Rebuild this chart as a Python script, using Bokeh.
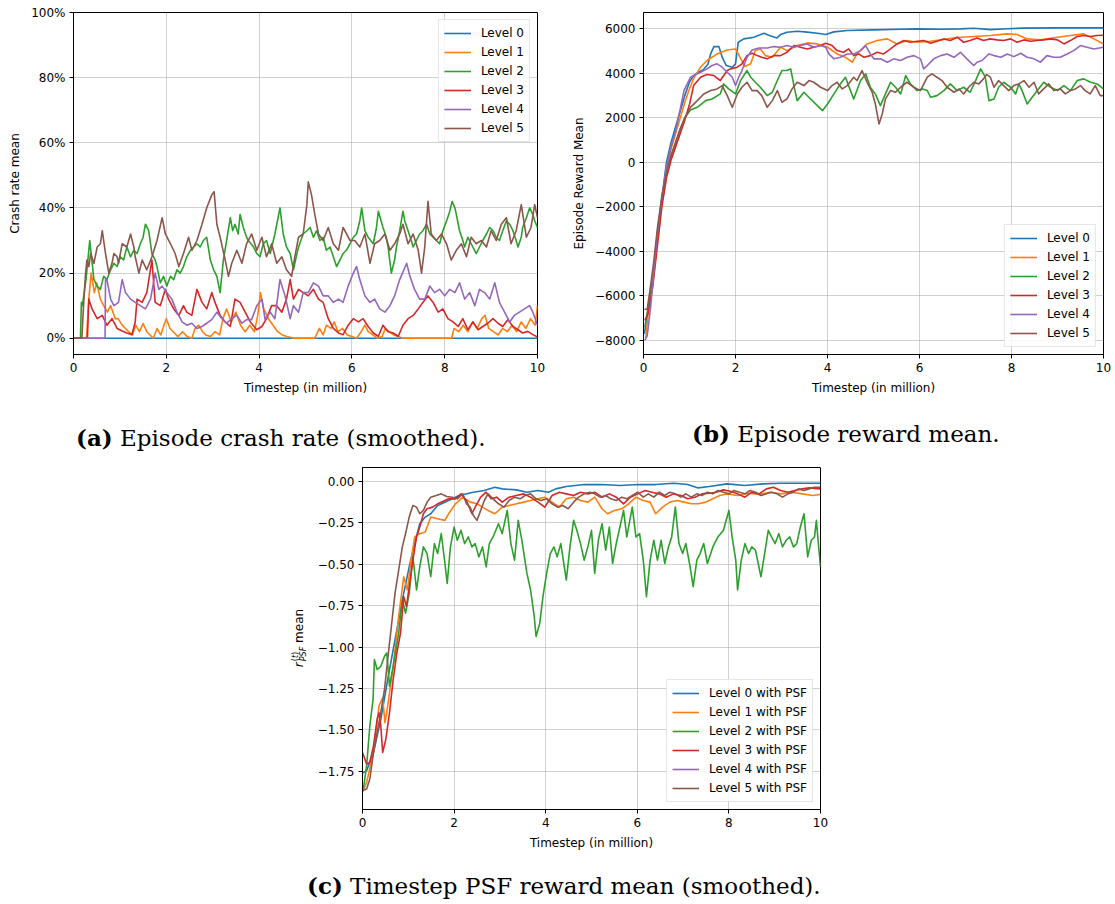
from bokeh.plotting import figure
from bokeh.layouts import column, row
from bokeh.models import Range1d, FixedTicker, Legend, LegendItem, Spacer, Div
from bokeh.embed import file_html
from bokeh.resources import INLINE

# ---------------------------------------------------------------- data
x_ticks = [0, 2, 4, 6, 8, 10]
x_tick_labels = ["0", "2", "4", "6", "8", "10"]

crash_ticks = [0, 20, 40, 60, 80, 100]
crash_tick_labels = ["0%", "20%", "40%", "60%", "80%", "100%"]

reward_ticks = [-8000, -6000, -4000, -2000, 0, 2000, 4000, 6000]
reward_tick_labels = ["\u22128000", "\u22126000", "\u22124000", "\u22122000", "0", "2000", "4000", "6000"]

psf_ticks = [-1.75, -1.5, -1.25, -1.0, -0.75, -0.5, -0.25, 0.0]
psf_tick_labels = ["\u22121.75", "\u22121.50", "\u22121.25", "\u22121.00", "\u22120.75", "\u22120.50", "\u22120.25", "0.00"]

levels = ["Level 0", "Level 1", "Level 2", "Level 3", "Level 4", "Level 5"]
psf_levels = [f"{lv} with PSF" for lv in levels]

# (a) episode crash rate, percent, (timestep in million, value)
crash_level0 = [(0, 0), (2, 0), (4, 0), (6, 0), (8, 0), (10, 0)]
crash_level1 = [(0.0, 0), (0.28, 0), (0.33, 12), (0.38, 20), (0.45, 14), (0.5, 17), (0.58, 12), (0.65, 10), (0.73, 8),
                (0.8, 10), (0.9, 6), (0.96, 6), (1.05, 4), (1.12, 3), (1.19, 2), (1.27, 1), (1.34, 4), (1.42, 2), (1.5, 4.5),
                (1.58, 2), (1.65, 1), (1.72, 0), (1.8, 3), (1.88, 1), (1.95, 4), (2.0, 6), (2.08, 3), (2.15, 2), (2.25, 0.5),
                (2.35, 2), (2.45, 0.5), (2.55, 0), (2.62, 3), (2.7, 4), (2.78, 2), (2.85, 1), (2.95, 0.5), (3.05, 2), (3.15, 1),
                (3.22, 6), (3.3, 9), (3.4, 5), (3.5, 8), (3.6, 4), (3.7, 2), (3.8, 4), (3.9, 2), (3.97, 7), (4.03, 14),
                (4.1, 9), (4.2, 6), (4.3, 4), (4.4, 2), (4.5, 1), (4.6, 0.5), (4.75, 0), (4.9, 0), (5.05, 0), (5.2, 0),
                (5.3, 3), (5.38, 1), (5.45, 4), (5.55, 3), (5.62, 5), (5.7, 2), (5.8, 3), (5.9, 1), (6.0, 0.5), (6.1, 0),
                (6.2, 2), (6.28, 4), (6.35, 2), (6.45, 1), (6.55, 0), (6.65, 0.5), (6.72, 3), (6.8, 2), (6.9, 1), (7.0, 0.5),
                (7.1, 0), (7.25, 0), (7.5, 0), (7.8, 0), (8.1, 0), (8.15, 0), (8.2, 3), (8.3, 2), (8.4, 4), (8.5, 2),
                (8.6, 5), (8.7, 3), (8.8, 6), (8.87, 7), (8.95, 3), (9.05, 2), (9.15, 1), (9.25, 3), (9.35, 2), (9.45, 4),
                (9.55, 2), (9.65, 5), (9.75, 3), (9.85, 6), (9.95, 4), (10.0, 10)]
crash_level2 = [(0, 0), (0.15, 0), (0.17, 11), (0.19, 10), (0.27, 18), (0.35, 30), (0.44, 18), (0.51, 16), (0.58, 15),
                (0.65, 19), (0.72, 18), (0.8, 21), (0.87, 23), (0.94, 22), (1.01, 25), (1.08, 24), (1.15, 28), (1.23, 25),
                (1.3, 27), (1.37, 26), (1.44, 29), (1.5, 31), (1.55, 35), (1.62, 33), (1.69, 26), (1.76, 24), (1.8, 22),
                (1.87, 17), (1.94, 19), (2.01, 16), (2.09, 19), (2.16, 18), (2.23, 21), (2.3, 20), (2.37, 22), (2.44, 25),
                (2.52, 27), (2.59, 28), (2.66, 29), (2.73, 28), (2.8, 30), (2.87, 31), (2.95, 24), (3.02, 21), (3.09, 19),
                (3.16, 14), (3.23, 24), (3.3, 30), (3.38, 37), (3.43, 33), (3.48, 35), (3.55, 32), (3.59, 38), (3.66, 34),
                (3.73, 31), (3.77, 30), (3.88, 28), (3.95, 26), (4.02, 25), (4.09, 29), (4.16, 30), (4.24, 26), (4.34, 32),
                (4.45, 40), (4.52, 32), (4.59, 28), (4.67, 26), (4.74, 21), (4.8, 25), (4.85, 28), (4.95, 32), (5.03, 33),
                (5.1, 34), (5.17, 31), (5.24, 33), (5.31, 30), (5.38, 31), (5.45, 27), (5.53, 28), (5.6, 25), (5.67, 22),
                (5.74, 24), (5.81, 26), (5.88, 27), (5.96, 29), (6.03, 31), (6.1, 32), (6.17, 36), (6.21, 40), (6.28, 33),
                (6.35, 31), (6.46, 29), (6.53, 34), (6.57, 39), (6.63, 36), (6.67, 34), (6.74, 31), (6.78, 28), (6.85, 20),
                (6.92, 24), (6.96, 28), (7.03, 33), (7.1, 39), (7.14, 36), (7.21, 33), (7.28, 30), (7.32, 28), (7.39, 30),
                (7.46, 32), (7.53, 33), (7.61, 35), (7.68, 32), (7.75, 31), (7.82, 30), (7.89, 29), (7.96, 33), (8.04, 36),
                (8.11, 39), (8.16, 42), (8.22, 40), (8.25, 38), (8.32, 33), (8.39, 30), (8.43, 28), (8.5, 31), (8.57, 29),
                (8.68, 26), (8.75, 28), (8.82, 30), (8.9, 32), (8.97, 34), (9.04, 33), (9.11, 31), (9.18, 30), (9.25, 33),
                (9.33, 36), (9.4, 35), (9.47, 33), (9.54, 30), (9.58, 28), (9.65, 31), (9.68, 34), (9.76, 37), (9.83, 40),
                (9.9, 38), (9.94, 36), (10.0, 34)]
crash_level3 = [(0, 0), (0.3, 0), (0.33, 12), (0.4, 9), (0.51, 6), (0.62, 7), (0.72, 4), (0.83, 6), (0.94, 3), (1.05, 2.2),
                (1.15, 1.6), (1.26, 1.1), (1.33, 5), (1.37, 12), (1.48, 11), (1.58, 14), (1.69, 24), (1.76, 11), (1.87, 10),
                (1.98, 15), (2.05, 12), (2.16, 9), (2.27, 7), (2.37, 10), (2.44, 8), (2.55, 7), (2.66, 15), (2.77, 11),
                (2.87, 9), (2.98, 14), (3.05, 11), (3.16, 7), (3.27, 5), (3.38, 3.6), (3.48, 12), (3.59, 11), (3.7, 8),
                (3.81, 5), (3.95, 2.6), (4.06, 3.6), (4.16, 6), (4.27, 10), (4.38, 10), (4.49, 8), (4.59, 12), (4.67, 18),
                (4.74, 12), (4.85, 15), (4.95, 14), (5.06, 13), (5.17, 15), (5.28, 12), (5.38, 11), (5.49, 6), (5.6, 3),
                (5.71, 1.6), (5.81, 1.1), (5.92, 4), (6.03, 6), (6.14, 5), (6.24, 6), (6.35, 3.6), (6.46, 1.6), (6.57, 0.6),
                (6.67, 4), (6.78, 2), (6.89, 1.6), (7.0, 0.6), (7.1, 4), (7.21, 6), (7.32, 7), (7.43, 9), (7.53, 11),
                (7.64, 13), (7.75, 11), (7.86, 8), (7.96, 9), (8.07, 6), (8.18, 5), (8.29, 3.6), (8.39, 6), (8.5, 2.6),
                (8.61, 5), (8.72, 2.6), (8.82, 3.6), (8.93, 4.6), (9.04, 6), (9.15, 4.6), (9.25, 3.6), (9.36, 5.7),
                (9.47, 3.6), (9.58, 2.6), (9.68, 1.6), (9.79, 2.1), (9.9, 1.1), (10.0, 0.4)]
crash_level4 = [(0, 0), (0.68, 0), (0.69, 18), (0.72, 18), (0.8, 12), (0.87, 10), (0.97, 11), (1.05, 18), (1.12, 14),
                (1.23, 12), (1.33, 11), (1.44, 10), (1.55, 9), (1.66, 12), (1.76, 20), (1.84, 15), (1.91, 16), (2.01, 14),
                (2.12, 12), (2.23, 8), (2.34, 5), (2.44, 4), (2.55, 4.6), (2.66, 3), (2.77, 3.6), (2.87, 4.6), (2.98, 5.7),
                (3.09, 8), (3.2, 6), (3.3, 4.6), (3.41, 6), (3.52, 7), (3.63, 4.6), (3.73, 5.7), (3.84, 5.7), (3.95, 10),
                (4.06, 12), (4.13, 5.7), (4.24, 8), (4.34, 6), (4.45, 18), (4.56, 13), (4.67, 6), (4.74, 10), (4.85, 8),
                (4.95, 14), (5.06, 14), (5.17, 17), (5.28, 16), (5.38, 13), (5.49, 13), (5.6, 11), (5.71, 12), (5.81, 11),
                (5.92, 16), (6.03, 20), (6.1, 22), (6.17, 18), (6.28, 13), (6.39, 11), (6.49, 12), (6.6, 9), (6.71, 8),
                (6.82, 10), (6.92, 13), (7.03, 18), (7.18, 23), (7.25, 19), (7.35, 15), (7.46, 12), (7.57, 12), (7.68, 16),
                (7.78, 14), (7.89, 15), (8.0, 13), (8.11, 15), (8.22, 14), (8.32, 17), (8.43, 12), (8.54, 14), (8.65, 10),
                (8.75, 15), (8.86, 14), (8.97, 12), (9.08, 17), (9.18, 11), (9.29, 8), (9.4, 5), (9.5, 7), (9.61, 8),
                (9.72, 9), (9.83, 10), (9.9, 8), (10.0, 4)]
crash_level5 = [(0, 0), (0.18, 0), (0.22, 11), (0.26, 20), (0.29, 24), (0.33, 22), (0.37, 26), (0.44, 23), (0.51, 28),
                (0.58, 29), (0.62, 33), (0.69, 26), (0.76, 20), (0.83, 23), (0.87, 26), (0.94, 25), (0.97, 23), (1.05, 29),
                (1.15, 28), (1.23, 32), (1.3, 28), (1.33, 25), (1.41, 20), (1.48, 24), (1.58, 21), (1.69, 25), (1.8, 30),
                (1.91, 37), (1.98, 32), (2.09, 29), (2.19, 26), (2.27, 22), (2.37, 26), (2.48, 31), (2.55, 27), (2.66, 30),
                (2.77, 35), (2.87, 40), (2.98, 44), (3.03, 45), (3.09, 35), (3.16, 31), (3.27, 24), (3.34, 19), (3.41, 23),
                (3.52, 27), (3.63, 23), (3.73, 29), (3.84, 32), (3.95, 27), (4.06, 31), (4.16, 25), (4.27, 29), (4.38, 23),
                (4.49, 25), (4.59, 21), (4.7, 19), (4.77, 25), (4.85, 31), (4.95, 32), (5.03, 41), (5.06, 48), (5.13, 44),
                (5.2, 38), (5.28, 32), (5.38, 30), (5.49, 34), (5.6, 29), (5.71, 27), (5.81, 34), (5.96, 30), (6.06, 30),
                (6.17, 28), (6.28, 32), (6.39, 23), (6.49, 29), (6.6, 30), (6.71, 32), (6.82, 27), (6.92, 29), (7.03, 32),
                (7.1, 35), (7.21, 29), (7.32, 32), (7.43, 27), (7.5, 20), (7.57, 28), (7.64, 42), (7.71, 32), (7.82, 30),
                (7.93, 32), (8.04, 29), (8.14, 24), (8.25, 27), (8.36, 29), (8.47, 25), (8.57, 31), (8.68, 29), (8.79, 30),
                (8.9, 28), (9.0, 33), (9.11, 30), (9.22, 35), (9.33, 37), (9.43, 29), (9.54, 33), (9.65, 41), (9.76, 31),
                (9.86, 34), (9.94, 41), (10.0, 37)]

# (b) episode reward mean
reward_level0 = [(0.02, -7700), (0.1, -6600), (0.2, -5200), (0.3, -3300), (0.4, -1600), (0.5, 0), (0.6, 900), (0.7, 1600),
                 (0.8, 2300), (0.9, 3000), (1.0, 3600), (1.1, 3900), (1.2, 4050), (1.3, 4150), (1.4, 4400), (1.46, 4860),
                 (1.53, 5190), (1.64, 5190), (1.71, 4713), (1.8, 4340), (1.93, 4263), (2.0, 4413), (2.06, 5386),
                 (2.18, 5535), (2.4, 5610), (2.62, 5790), (2.72, 5700), (2.9, 5580), (2.98, 5730), (3.12, 5835),
                 (3.34, 5880), (3.56, 5840), (3.78, 5790), (3.96, 5730), (4.14, 5850), (4.43, 5910), (5.0, 5940),
                 (5.58, 5970), (5.95, 5985), (6.46, 5970), (6.9, 5985), (7.18, 6010), (7.54, 5950), (7.9, 5990),
                 (8.27, 6020), (9.0, 6030), (10.0, 6030)]
reward_level1 = [(0.05, -7900), (0.1, -6800), (0.2, -5500), (0.3, -3600), (0.4, -1800), (0.5, -300), (0.6, 600), (0.7, 1300),
                 (0.8, 2000), (0.9, 2700), (1.0, 3300), (1.1, 3800), (1.24, 4265), (1.38, 4565), (1.6, 4860), (1.82, 5040),
                 (2.0, 5085), (2.1, 4710), (2.2, 4300), (2.33, 4415), (2.43, 5010), (2.54, 5085), (2.65, 4785), (2.8, 4710),
                 (2.98, 5160), (3.12, 5010), (3.34, 5235), (3.56, 5355), (3.78, 5310), (4.0, 5160), (4.21, 4860),
                 (4.39, 4710), (4.54, 4490), (4.64, 4860), (4.86, 5310), (5.08, 5460), (5.3, 5535), (5.51, 5310),
                 (5.73, 5460), (5.95, 5385), (6.24, 5430), (6.46, 5490), (6.82, 5595), (7.18, 5640), (7.54, 5685),
                 (7.9, 5760), (8.12, 5730), (8.34, 5535), (8.63, 5490), (9.0, 5610), (9.28, 5685), (9.57, 5760),
                 (9.79, 5535), (10.0, 5310)]
reward_level2 = [(0.03, -7400), (0.1, -6500), (0.2, -5200), (0.3, -3400), (0.4, -1700), (0.5, -500), (0.6, 300), (0.7, 900),
                 (0.8, 1500), (0.9, 2000), (1.02, 2345), (1.17, 2465), (1.35, 2765), (1.49, 2840), (1.67, 3065),
                 (1.74, 3515), (1.85, 3290), (2.0, 3065), (2.11, 3665), (2.25, 4115), (2.33, 3815), (2.43, 3590),
                 (2.54, 3365), (2.69, 2990), (2.8, 3140), (2.94, 3815), (3.01, 4115), (3.12, 4115), (3.2, 4190),
                 (3.27, 3440), (3.34, 2765), (3.49, 3140), (3.63, 2840), (3.78, 2540), (3.89, 2315), (4.0, 2615),
                 (4.14, 3065), (4.28, 3515), (4.39, 3815), (4.5, 3215), (4.57, 2840), (4.72, 3665), (4.83, 3965),
                 (4.93, 3365), (5.04, 3065), (5.15, 2540), (5.26, 3065), (5.37, 3590), (5.48, 3365), (5.59, 3065),
                 (5.7, 3890), (5.8, 3515), (5.95, 3215), (6.06, 3290), (6.17, 3215), (6.24, 2915), (6.38, 2990),
                 (6.53, 3215), (6.67, 3515), (6.82, 3215), (6.96, 3365), (7.1, 3140), (7.22, 3665), (7.33, 4190),
                 (7.43, 3815), (7.51, 2765), (7.62, 2840), (7.72, 3365), (7.83, 3590), (7.98, 3365), (8.09, 3065),
                 (8.16, 3515), (8.23, 3215), (8.34, 2615), (8.45, 2915), (8.56, 3215), (8.7, 3590), (8.85, 3365),
                 (9.0, 3215), (9.14, 3440), (9.28, 3215), (9.43, 3665), (9.57, 3740), (9.72, 3590), (9.86, 3515),
                 (10.0, 3290)]
reward_level3 = [(0.03, -7100), (0.1, -6800), (0.2, -5600), (0.3, -3800), (0.4, -2000), (0.5, -700), (0.6, 100), (0.7, 700),
                 (0.8, 1300), (0.9, 1900), (1.0, 2600), (1.09, 3440), (1.24, 3815), (1.38, 3935), (1.53, 3890),
                 (1.67, 3665), (1.82, 4115), (1.89, 4190), (2.04, 4265), (2.14, 4415), (2.25, 4785), (2.36, 4890),
                 (2.47, 4785), (2.57, 4710), (2.69, 4640), (2.83, 4785), (2.98, 4785), (3.12, 4935), (3.27, 5235),
                 (3.41, 5160), (3.56, 5085), (3.7, 5160), (3.85, 5235), (3.96, 5340), (4.1, 5235), (4.21, 5010),
                 (4.35, 4935), (4.46, 5085), (4.57, 4785), (4.68, 4860), (4.79, 4710), (4.93, 4785), (5.08, 4935),
                 (5.22, 4860), (5.37, 5085), (5.51, 5310), (5.66, 5460), (5.8, 5385), (5.95, 5430), (6.09, 5460),
                 (6.24, 5340), (6.38, 5430), (6.53, 5535), (6.67, 5460), (6.82, 5610), (6.96, 5385), (7.1, 5460),
                 (7.25, 5580), (7.39, 5460), (7.54, 5535), (7.68, 5490), (7.83, 5460), (7.98, 5535), (8.12, 5385),
                 (8.27, 5490), (8.41, 5430), (8.56, 5460), (8.7, 5490), (8.85, 5535), (9.0, 5490), (9.14, 5310),
                 (9.28, 5460), (9.43, 5640), (9.57, 5685), (9.72, 5640), (9.86, 5685), (10.0, 5700)]
reward_level4 = [(0.03, -8000), (0.08, -7800), (0.15, -6600), (0.22, -5000), (0.3, -3200), (0.4, -1600), (0.5, -200),
                 (0.6, 700), (0.7, 1400), (0.8, 2400), (0.88, 3215), (1.02, 3815), (1.09, 3890), (1.24, 4040), (1.38, 4190),
                 (1.49, 4340), (1.6, 4415), (1.71, 4265), (1.82, 4040), (1.93, 3815), (2.0, 3440), (2.07, 3815),
                 (2.14, 4115), (2.25, 4710), (2.36, 5040), (2.51, 5130), (2.69, 5130), (2.83, 5190), (2.98, 5160),
                 (3.12, 5235), (3.27, 5160), (3.41, 5235), (3.56, 5310), (3.7, 5160), (3.85, 5235), (3.96, 5160),
                 (4.03, 4860), (4.14, 4640), (4.28, 4710), (4.43, 4860), (4.57, 4860), (4.72, 5010), (4.83, 5235),
                 (4.93, 4860), (5.01, 4640), (5.15, 4640), (5.3, 4490), (5.44, 4640), (5.59, 4565), (5.73, 4710),
                 (5.88, 4785), (6.02, 4640), (6.09, 4190), (6.17, 4340), (6.31, 4640), (6.46, 4785), (6.6, 4860),
                 (6.75, 4710), (6.89, 4935), (7.03, 4640), (7.18, 4340), (7.25, 4490), (7.36, 4565), (7.51, 4860),
                 (7.62, 4785), (7.77, 4710), (7.91, 4860), (8.05, 4740), (8.2, 4890), (8.34, 4710), (8.49, 4640),
                 (8.63, 4490), (8.77, 4785), (8.92, 4710), (9.06, 4710), (9.21, 4860), (9.35, 5010), (9.5, 5235),
                 (9.64, 5160), (9.79, 5085), (10.0, 5160)]
reward_level5 = [(0.02, -6600), (0.08, -6600), (0.15, -5600), (0.22, -4500), (0.3, -3000), (0.4, -1500), (0.5, -500),
                 (0.6, 300), (0.7, 900), (0.8, 1500), (0.9, 2000), (1.02, 2465), (1.17, 2765), (1.31, 3065), (1.46, 3215),
                 (1.6, 3290), (1.71, 3440), (1.82, 2990), (1.93, 2465), (2.04, 3065), (2.14, 3365), (2.25, 3590),
                 (2.36, 3215), (2.47, 3215), (2.57, 2990), (2.69, 2465), (2.8, 2765), (2.91, 3215), (3.01, 2690),
                 (3.12, 2840), (3.23, 3290), (3.34, 3590), (3.49, 3440), (3.6, 3665), (3.7, 3590), (3.85, 3365),
                 (4.0, 3215), (4.1, 3440), (4.21, 3590), (4.32, 3290), (4.43, 3440), (4.57, 3815), (4.64, 3665),
                 (4.75, 4115), (4.86, 3590), (4.97, 3140), (5.04, 2615), (5.12, 1720), (5.19, 2165), (5.26, 2840),
                 (5.37, 3215), (5.48, 3140), (5.59, 3365), (5.73, 3590), (5.88, 3365), (6.02, 3215), (6.17, 3815),
                 (6.27, 3965), (6.38, 3815), (6.49, 3665), (6.6, 3365), (6.75, 3140), (6.86, 3290), (6.96, 3065),
                 (7.07, 3365), (7.18, 3590), (7.29, 3515), (7.39, 3740), (7.46, 3935), (7.54, 3815), (7.62, 3365),
                 (7.72, 3665), (7.83, 3440), (7.94, 3215), (8.05, 3440), (8.16, 3515), (8.27, 3665), (8.38, 3365),
                 (8.49, 3590), (8.59, 3065), (8.7, 3290), (8.81, 3515), (8.92, 3215), (9.06, 3290), (9.17, 3065),
                 (9.28, 3215), (9.39, 3290), (9.5, 3440), (9.6, 3215), (9.71, 3065), (9.82, 3440), (9.93, 2990),
                 (10.0, 2990)]

# (c) timestep PSF reward mean
psf_level0 = [(0.0, -1.76), (0.09, -1.746), (0.24, -1.636), (0.4, -1.436), (0.55, -1.196), (0.71, -0.956), (0.87, -0.716),
              (1.02, -0.516), (1.14, -0.376), (1.25, -0.256), (1.37, -0.216), (1.49, -0.196), (1.64, -0.146),
              (1.88, -0.116), (2.11, -0.086), (2.42, -0.066), (2.66, -0.056), (2.89, -0.036), (3.05, -0.046),
              (3.36, -0.052), (3.59, -0.066), (3.83, -0.056), (4.06, -0.066), (4.22, -0.046), (4.45, -0.032),
              (4.84, -0.02), (5.23, -0.02), (5.62, -0.026), (6.01, -0.02), (6.4, -0.02), (6.79, -0.012), (7.1, -0.02),
              (7.33, -0.04), (7.57, -0.032), (7.96, -0.016), (8.35, -0.026), (8.74, -0.016), (9.13, -0.012),
              (9.52, -0.012), (10.0, -0.012)]
psf_level1 = [(0.0, -1.876), (0.09, -1.816), (0.24, -1.636), (0.36, -1.356), (0.44, -1.306), (0.49, -1.456), (0.55, -1.356),
              (0.67, -1.116), (0.79, -0.816), (0.9, -0.576), (0.98, -0.656), (1.06, -0.476), (1.14, -0.336), (1.25, -0.316),
              (1.37, -0.306), (1.49, -0.216), (1.64, -0.226), (1.8, -0.236), (1.88, -0.196), (2.03, -0.136), (2.19, -0.096),
              (2.35, -0.126), (2.5, -0.136), (2.62, -0.156), (2.74, -0.176), (2.89, -0.196), (3.05, -0.156), (3.2, -0.146),
              (3.36, -0.136), (3.52, -0.126), (3.67, -0.116), (3.83, -0.106), (3.98, -0.096), (4.14, -0.126),
              (4.3, -0.156), (4.45, -0.106), (4.61, -0.096), (4.76, -0.116), (4.92, -0.126), (5.07, -0.096),
              (5.23, -0.166), (5.35, -0.196), (5.5, -0.176), (5.66, -0.166), (5.81, -0.136), (5.97, -0.096),
              (6.13, -0.116), (6.28, -0.126), (6.4, -0.196), (6.55, -0.156), (6.71, -0.126), (6.87, -0.116),
              (7.02, -0.126), (7.18, -0.136), (7.33, -0.136), (7.49, -0.126), (7.65, -0.106), (7.8, -0.086),
              (7.96, -0.076), (8.19, -0.086), (8.43, -0.072), (8.66, -0.08), (8.9, -0.066), (9.13, -0.076),
              (9.36, -0.066), (9.6, -0.076), (9.83, -0.086), (10.0, -0.08)]
psf_level2 = [(0.02, -1.856), (0.09, -1.716), (0.16, -1.476), (0.23, -1.316), (0.26, -1.076), (0.32, -1.136), (0.4, -1.116),
              (0.48, -1.056), (0.53, -1.036), (0.59, -1.236), (0.67, -1.116), (0.79, -0.916), (0.87, -0.716), (0.94, -0.796),
              (1.02, -0.676), (1.1, -0.456), (1.18, -0.656), (1.25, -0.516), (1.33, -0.396), (1.41, -0.436), (1.49, -0.576),
              (1.57, -0.376), (1.64, -0.436), (1.72, -0.316), (1.8, -0.496), (1.85, -0.616), (1.92, -0.396), (2.0, -0.276),
              (2.07, -0.356), (2.15, -0.296), (2.23, -0.376), (2.31, -0.336), (2.39, -0.396), (2.46, -0.376), (2.54, -0.456),
              (2.62, -0.396), (2.7, -0.516), (2.77, -0.376), (2.85, -0.336), (2.97, -0.256), (3.05, -0.316), (3.16, -0.176),
              (3.24, -0.376), (3.32, -0.476), (3.4, -0.236), (3.48, -0.356), (3.59, -0.556), (3.67, -0.656), (3.75, -0.816),
              (3.79, -0.936), (3.87, -0.856), (3.94, -0.696), (4.02, -0.556), (4.1, -0.436), (4.18, -0.396), (4.25, -0.456),
              (4.33, -0.376), (4.45, -0.596), (4.53, -0.396), (4.61, -0.236), (4.68, -0.296), (4.76, -0.376), (4.84, -0.476),
              (4.92, -0.396), (5.0, -0.296), (5.07, -0.556), (5.15, -0.356), (5.23, -0.256), (5.31, -0.416), (5.39, -0.276),
              (5.46, -0.496), (5.54, -0.376), (5.62, -0.276), (5.7, -0.176), (5.77, -0.336), (5.89, -0.156), (5.97, -0.336),
              (6.05, -0.316), (6.13, -0.476), (6.2, -0.696), (6.28, -0.476), (6.36, -0.356), (6.44, -0.476), (6.52, -0.356),
              (6.6, -0.496), (6.68, -0.396), (6.75, -0.336), (6.83, -0.156), (6.91, -0.376), (6.99, -0.436), (7.06, -0.376),
              (7.14, -0.496), (7.22, -0.636), (7.3, -0.476), (7.37, -0.436), (7.45, -0.376), (7.53, -0.496), (7.65, -0.396),
              (7.76, -0.336), (7.88, -0.296), (8.0, -0.176), (8.07, -0.336), (8.15, -0.476), (8.19, -0.656), (8.27, -0.476),
              (8.35, -0.376), (8.43, -0.436), (8.5, -0.396), (8.58, -0.416), (8.7, -0.576), (8.78, -0.436), (8.86, -0.296),
              (8.93, -0.336), (9.01, -0.376), (9.09, -0.316), (9.17, -0.396), (9.25, -0.356), (9.33, -0.336), (9.41, -0.396),
              (9.48, -0.376), (9.56, -0.276), (9.64, -0.196), (9.72, -0.456), (9.8, -0.356), (9.87, -0.336), (9.91, -0.236),
              (9.96, -0.396), (10.0, -0.516)]
psf_level3 = [(0.0, -1.636), (0.09, -1.706), (0.16, -1.696), (0.24, -1.596), (0.32, -1.436), (0.36, -1.396), (0.4, -1.476),
              (0.44, -1.636), (0.51, -1.556), (0.59, -1.396), (0.67, -1.196), (0.75, -1.036), (0.83, -0.916), (0.9, -0.696),
              (0.96, -0.756), (1.02, -0.636), (1.1, -0.476), (1.18, -0.336), (1.25, -0.276), (1.33, -0.196), (1.41, -0.166),
              (1.53, -0.156), (1.64, -0.136), (1.8, -0.116), (1.88, -0.106), (2.03, -0.106), (2.15, -0.076), (2.27, -0.116),
              (2.39, -0.196), (2.46, -0.156), (2.58, -0.096), (2.7, -0.066), (2.81, -0.106), (2.93, -0.096), (3.05, -0.126),
              (3.2, -0.096), (3.36, -0.086), (3.52, -0.076), (3.67, -0.096), (3.83, -0.126), (3.98, -0.156), (4.14, -0.086),
              (4.3, -0.066), (4.45, -0.076), (4.61, -0.086), (4.76, -0.066), (4.92, -0.076), (5.07, -0.066), (5.23, -0.096),
              (5.39, -0.076), (5.54, -0.096), (5.7, -0.136), (5.85, -0.096), (6.01, -0.076), (6.17, -0.056), (6.32, -0.066),
              (6.48, -0.076), (6.63, -0.096), (6.79, -0.076), (6.95, -0.086), (7.1, -0.106), (7.26, -0.096), (7.41, -0.076),
              (7.57, -0.072), (7.72, -0.066), (7.88, -0.052), (8.03, -0.06), (8.19, -0.076), (8.35, -0.096), (8.5, -0.066),
              (8.66, -0.076), (8.82, -0.046), (8.97, -0.036), (9.13, -0.056), (9.29, -0.066), (9.44, -0.056), (9.6, -0.046),
              (9.75, -0.04), (10.0, -0.046)]
psf_level4 = []
psf_level5 = [(0.0, -1.866), (0.09, -1.856), (0.16, -1.796), (0.24, -1.636), (0.32, -1.516), (0.4, -1.396), (0.48, -1.256),
              (0.55, -1.076), (0.63, -0.876), (0.71, -0.676), (0.79, -0.536), (0.87, -0.396), (0.94, -0.316), (1.02, -0.216),
              (1.1, -0.146), (1.18, -0.156), (1.25, -0.196), (1.33, -0.176), (1.41, -0.126), (1.49, -0.096), (1.61, -0.086),
              (1.72, -0.076), (1.84, -0.092), (1.96, -0.096), (2.07, -0.106), (2.19, -0.076), (2.27, -0.136), (2.35, -0.156),
              (2.42, -0.206), (2.5, -0.236), (2.58, -0.176), (2.66, -0.116), (2.74, -0.076), (2.85, -0.106), (2.97, -0.136),
              (3.09, -0.156), (3.2, -0.116), (3.32, -0.096), (3.44, -0.106), (3.55, -0.086), (3.67, -0.076), (3.79, -0.106),
              (3.9, -0.116), (4.02, -0.106), (4.14, -0.136), (4.26, -0.156), (4.37, -0.146), (4.49, -0.166), (4.61, -0.126),
              (4.72, -0.096), (4.84, -0.076), (4.96, -0.066), (5.07, -0.076), (5.19, -0.096), (5.31, -0.086), (5.42, -0.106),
              (5.54, -0.116), (5.66, -0.096), (5.77, -0.106), (5.89, -0.086), (6.01, -0.066), (6.13, -0.096), (6.24, -0.076),
              (6.36, -0.096), (6.48, -0.066), (6.6, -0.086), (6.71, -0.066), (6.83, -0.076), (6.95, -0.096), (7.06, -0.076),
              (7.18, -0.096), (7.3, -0.076), (7.41, -0.086), (7.53, -0.066), (7.65, -0.076), (7.76, -0.056), (7.88, -0.066),
              (8.0, -0.076), (8.11, -0.056), (8.23, -0.066), (8.35, -0.076), (8.46, -0.056), (8.58, -0.066), (8.7, -0.086),
              (8.82, -0.076), (8.93, -0.066), (9.05, -0.076), (9.17, -0.096), (9.29, -0.076), (9.41, -0.066), (9.52, -0.046),
              (9.64, -0.056), (9.75, -0.046), (9.87, -0.036), (10.0, -0.036)]

crash_series = [crash_level0, crash_level1, crash_level2, crash_level3, crash_level4, crash_level5]
reward_series = [reward_level0, reward_level1, reward_level2, reward_level3, reward_level4, reward_level5]
psf_series = [psf_level0, psf_level1, psf_level2, psf_level3, psf_level4, psf_level5]

# ---------------------------------------------------------------- style
COLORS = ["#1f77b4", "#ff7f0e", "#2ca02c", "#d62728", "#9467bd", "#8c564b"]
SANS = "DejaVu Sans"
TEXT_PX = "12px"
CAPTION_STYLE = ("font-family:'DejaVu Serif'; font-size:23px; line-height:23px; "
                 "white-space:nowrap; color:#000;")


def make_panel(width, height, left, right, top, bottom, x_range, y_range):
    p = figure(width=width, height=height,
               x_range=Range1d(*x_range), y_range=Range1d(*y_range),
               output_backend="svg", toolbar_location=None,
               min_border_left=left, min_border_right=right,
               min_border_top=top, min_border_bottom=bottom)
    p.background_fill_color = "white"
    p.border_fill_color = "white"
    p.outline_line_color = "black"
    p.outline_line_width = 1
    p.outline_line_alpha = 1
    for ax in (p.xaxis[0], p.yaxis[0]):
        ax.major_tick_out = 4
        ax.major_tick_in = 0
        ax.minor_tick_out = 0
        ax.minor_tick_in = 0
        ax.minor_tick_line_color = None
        ax.axis_line_color = "black"
        ax.major_tick_line_color = "black"
        ax.major_label_text_font = SANS
        ax.major_label_text_font_size = TEXT_PX
        ax.major_label_text_color = "black"
        ax.major_label_standoff = 4
        ax.axis_label_text_font = SANS
        ax.axis_label_text_font_size = TEXT_PX
        ax.axis_label_text_font_style = "normal"
        ax.axis_label_text_color = "black"
        ax.axis_label_standoff = 6
    p.grid.grid_line_color = "#b0b0b0"
    p.grid.grid_line_alpha = 0.6
    p.grid.grid_line_width = 1
    return p


def set_ticks(p, xt, xl, yt, yl):
    p.xaxis.ticker = FixedTicker(ticks=xt)
    p.xaxis.major_label_overrides = dict(zip(xt, xl))
    p.yaxis.ticker = FixedTicker(ticks=yt)
    p.yaxis.major_label_overrides = dict(zip(yt, yl))


def draw_series(p, series, names, location):
    items = []
    for pts, name, color in zip(series, names, COLORS):
        xs = [q[0] for q in pts] or [float("nan")]
        ys = [q[1] for q in pts] or [float("nan")]
        r = p.line(xs, ys, line_color=color, line_width=1.6, line_join="round")
        items.append(LegendItem(label=name, renderers=[r]))
    legend = Legend(items=items, location=location, margin=7, padding=5, spacing=3,
                    glyph_width=27, glyph_height=16, label_height=16, label_standoff=10,
                    label_text_font=SANS, label_text_font_size=TEXT_PX, label_text_color="black",
                    border_line_color="#cccccc", border_line_width=1,
                    background_fill_color="white", background_fill_alpha=0.85)
    p.add_layout(legend)


def caption_div(tag, text, width, height, left, top):
    html = (f'<div style="{CAPTION_STYLE} margin-left:{left}px; margin-top:{top}px;">'
            f'<b>{tag}</b> {text}</div>')
    return Div(text=html, width=width, height=height, margin=0)


# ---------------------------------------------------------------- panel (a)
pa = make_panel(557, 404, 73, 20, 12, 45, (0, 10), (-5, 100))
set_ticks(pa, x_ticks, x_tick_labels, crash_ticks, crash_tick_labels)
pa.xaxis.axis_label = "Timestep (in million)"
pa.yaxis.axis_label = "Crash rate mean"
draw_series(pa, crash_series, levels, "top_right")

# ---------------------------------------------------------------- panel (b)
pb = make_panel(558, 404, 86, 12, 12, 50, (0, 10), (-8630, 6720))
set_ticks(pb, x_ticks, x_tick_labels, reward_ticks, reward_tick_labels)
pb.xaxis.axis_label = "Timestep (in million)"
pb.yaxis.axis_label = "Episode Reward Mean"
draw_series(pb, reward_series, levels, "bottom_right")

# ---------------------------------------------------------------- panel (c)
pc = make_panel(550, 399, 52, 40, 12, 45, (0, 10), (-1.98, 0.083))
set_ticks(pc, x_ticks, x_tick_labels, psf_ticks, psf_tick_labels)
pc.xaxis.axis_label = "Timestep (in million)"
pc.yaxis.axis_label = None
draw_series(pc, psf_series, psf_levels, "bottom_right")

# vertical label r_PSF^(t) mean, reading bottom to top
ylabel_html = (
    '<div style="width:80px; height:16px; margin-left:9px; margin-top:175px; '
    'transform:rotate(-90deg); text-align:center; white-space:nowrap; '
    "font-family:'DejaVu Sans'; font-size:12px; line-height:16px; color:#000;\">"
    '<i>r</i><span style="display:inline-block; vertical-align:-3px; line-height:8px; '
    'font-size:8px; text-align:left; margin-left:1px;">'
    '<span style="display:block;">(<i>t</i>)</span>'
    '<span style="display:block;"><i>PSF</i></span></span> mean</div>'
)
ylabel_c = Div(text=ylabel_html, width=60, height=399, margin=0)

cap_a = caption_div("(a)", "Episode crash rate (smoothed).", 557, 51, 76, 22)
cap_b = caption_div("(b)", "Episode reward mean.", 558, 51, 692 - 557, 18)
cap_c = caption_div("(c)", "Timestep PSF reward mean (smoothed).", 1115, 50, 307, 20)

layout = column(
    row(pa, pb),
    row(cap_a, cap_b),
    row(Spacer(width=250, height=399), ylabel_c, pc),
    cap_c,
)

with open("out.html", "w") as f:
    f.write(file_html(layout, INLINE))
